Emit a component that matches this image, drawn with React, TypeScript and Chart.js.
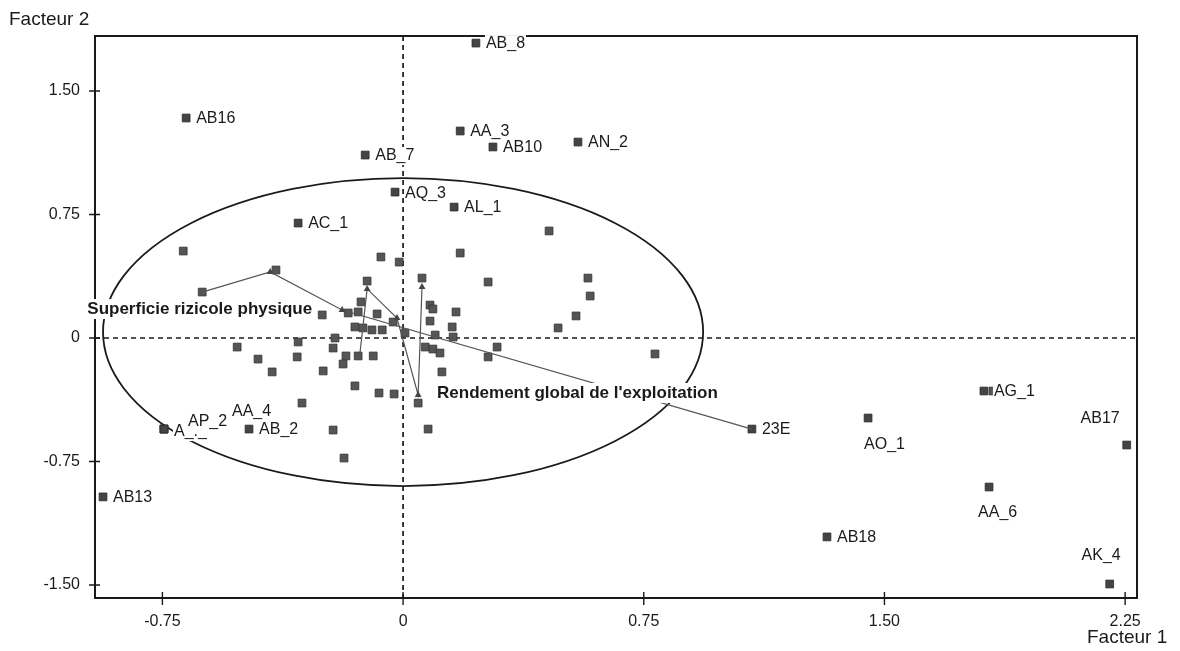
import React, { useEffect, useRef } from 'react';
import { Chart, registerables } from 'chart.js';

Chart.register(...registerables);

// ---- axes ----
const X_TICKS = [-0.75, 0, 0.75, 1.5, 2.25];
const Y_TICKS = [-1.5, -0.75, 0, 0.75, 1.5];
const X_RANGE = [-0.96, 2.287];
const Y_RANGE = [-1.579, 1.834];
const X_TITLE = 'Facteur 1';
const Y_TITLE = 'Facteur 2';

// ---- labelled individuals ----
const LABELED_NAMES = ['AB_8', 'AB16', 'AA_3', 'AB10', 'AN_2', 'AB_7', 'AQ_3', 'AL_1', 'AC_1', 'AG_1', 'AB17', 'AO_1', 'AA_6', 'AB18', 'AK_4', '23E', 'AB13', 'A_._', 'AP_2', 'AA_4', 'AB_2'];
const LABELED_X = [0.227, -0.676, 0.178, 0.28, 0.545, -0.118, -0.025, 0.159, -0.327, 1.81, 2.255, 1.449, 1.826, 1.321, 2.202, 1.087, -0.935, -0.745, -0.745, -0.745, -0.48];
const LABELED_Y = [1.791, 1.336, 1.257, 1.16, 1.19, 1.111, 0.886, 0.795, 0.698, -0.322, -0.65, -0.486, -0.905, -1.208, -1.494, -0.553, -0.965, -0.553, -0.553, -0.553, -0.553];
const LABEL_PLACE = ['r', 'r', 'r', 'r', 'r', 'r', 'r', 'r', 'r', 'r', 'tl', 'b', 'b2', 'r', 't', 'r', 'r', 'a', 'ap', 'aa', 'r'];

// ---- unlabelled individuals ----
const POINT_X = [-0.685, -0.626, -0.396, -0.252, -0.069, -0.012, 0.178, 0.455, -0.112, 0.059, -0.131, -0.171, -0.14, -0.081, 0.084, 0.093, 0.165, 0.084, -0.031, -0.15, -0.125, -0.097, -0.065, 0.006, 0.1, 0.153, 0.156, -0.212, -0.218, -0.178, -0.14, -0.093, -0.187, 0.069, 0.093, 0.115, -0.249, -0.15, -0.075, -0.028, 0.047, 0.121, -0.218, 0.078, -0.517, -0.452, -0.408, -0.327, -0.33, -0.315, 0.265, 0.576, 0.583, 0.539, 0.483, 0.293, 0.265, 0.785, -0.184, 1.838];
const POINT_Y = [0.528, 0.279, 0.413, 0.14, 0.492, 0.461, 0.516, 0.65, 0.346, 0.364, 0.219, 0.152, 0.158, 0.146, 0.2, 0.176, 0.158, 0.103, 0.097, 0.067, 0.061, 0.049, 0.049, 0.03, 0.018, 0.067, 0.006, 0.0, -0.061, -0.109, -0.109, -0.109, -0.158, -0.055, -0.067, -0.091, -0.2, -0.291, -0.334, -0.34, -0.395, -0.206, -0.559, -0.553, -0.055, -0.128, -0.206, -0.024, -0.115, -0.395, 0.34, 0.364, 0.255, 0.134, 0.061, -0.055, -0.115, -0.097, -0.729, -0.322];

// ---- variable trajectories ----
const PATH1_X = [-0.626, -0.414, -0.19, 1.087];
const PATH1_Y = [0.279, 0.401, 0.17, -0.553];
const PATH2_X = [-0.134, -0.112, -0.019, 0.047, 0.059];
const PATH2_Y = [-0.085, 0.298, 0.121, -0.346, 0.31];

// ---- variable labels ----
const VECTOR_LABELS = ['Superficie rizicole physique', "Rendement global de l'exploitation"];
const VECTOR_LABEL_X = [-0.984, 0.106];
const VECTOR_LABEL_Y = [0.176, -0.334];

// ---- correlation circle ----
const CIRCLE_CX = 0;
const CIRCLE_CY = 0.036;
const CIRCLE_R = 0.935;

// ---- styles ----
const FONT = '"Liberation Sans", Arial, sans-serif';
const INK = '#1a1a1a';
const PLACEMENTS: Record<string, { dx: number; dy: number; align: 'left' | 'right' }> = {
  r: { dx: 10, dy: 1, align: 'left' },
  tl: { dx: -7, dy: -26, align: 'right' },
  b: { dx: -4, dy: 27, align: 'left' },
  b2: { dx: -11, dy: 26, align: 'left' },
  t: { dx: 11, dy: -28, align: 'right' },
  a: { dx: 10, dy: 3, align: 'left' },
  ap: { dx: 24, dy: -7, align: 'left' },
  aa: { dx: 68, dy: -17, align: 'left' },
};

function fmt(v: number) {
  return v === 0 ? '0' : v.toFixed(2);
}

function drawBoxedText(ctx: CanvasRenderingContext2D, text: string, x: number, y: number, align: 'left' | 'right', font: string, h: number) {
  ctx.font = font;
  const w = ctx.measureText(text).width;
  const left = align === 'right' ? x - w : x;
  ctx.fillStyle = '#fff';
  ctx.fillRect(left - 1, y - h / 2, w + 2, h);
  ctx.fillStyle = INK;
  ctx.textAlign = 'left';
  ctx.textBaseline = 'middle';
  ctx.fillText(text, left, y);
}

const decorPlugin = {
  id: 'decor',
  beforeDatasetsDraw(chart: any) {
    const { ctx, chartArea: a, scales } = chart;
    const xs = scales.x, ys = scales.y;
    ctx.save();
    ctx.strokeStyle = INK;
    // dashed zero lines
    ctx.lineWidth = 1.7;
    ctx.setLineDash([5, 4]);
    const x0 = xs.getPixelForValue(0);
    const y0 = ys.getPixelForValue(0);
    ctx.beginPath();
    ctx.moveTo(x0, a.top);
    ctx.lineTo(x0, a.bottom);
    ctx.moveTo(a.left, y0);
    ctx.lineTo(a.right, y0);
    ctx.stroke();
    ctx.setLineDash([]);
    // circle
    const cx = xs.getPixelForValue(CIRCLE_CX);
    const cy = ys.getPixelForValue(CIRCLE_CY);
    const rx = Math.abs(xs.getPixelForValue(CIRCLE_CX + CIRCLE_R) - cx);
    const ry = Math.abs(ys.getPixelForValue(CIRCLE_CY + CIRCLE_R) - cy);
    ctx.lineWidth = 1.8;
    ctx.beginPath();
    ctx.ellipse(cx, cy, rx, ry, 0, 0, Math.PI * 2);
    ctx.stroke();
    // frame
    ctx.lineWidth = 2;
    ctx.strokeRect(a.left, a.top, a.right - a.left, a.bottom - a.top);
    // crossing tick marks
    ctx.lineWidth = 1.4;
    ctx.beginPath();
    Y_TICKS.forEach((v) => {
      const p = ys.getPixelForValue(v);
      ctx.moveTo(a.left - 6, p);
      ctx.lineTo(a.left + 5, p);
    });
    X_TICKS.forEach((v) => {
      const p = xs.getPixelForValue(v);
      ctx.moveTo(p, a.bottom - 6);
      ctx.lineTo(p, a.bottom + 7);
    });
    ctx.stroke();
    ctx.restore();
  },
  afterDraw(chart: any) {
    const { ctx, scales } = chart;
    const xs = scales.x, ys = scales.y;
    ctx.save();
    const lf = `16px ${FONT}`;
    LABELED_NAMES.forEach((name, i) => {
      const pl = PLACEMENTS[LABEL_PLACE[i]];
      const px = xs.getPixelForValue(LABELED_X[i]) + pl.dx;
      const py = ys.getPixelForValue(LABELED_Y[i]) + pl.dy;
      drawBoxedText(ctx, name, px, py, pl.align, lf, 18);
    });
    const bf = `bold 17px ${FONT}`;
    VECTOR_LABELS.forEach((t, i) => {
      drawBoxedText(ctx, t, xs.getPixelForValue(VECTOR_LABEL_X[i]), ys.getPixelForValue(VECTOR_LABEL_Y[i]), 'left', bf, 20);
    });
    ctx.fillStyle = INK;
    ctx.font = `19px ${FONT}`;
    ctx.textAlign = 'left';
    ctx.textBaseline = 'alphabetic';
    ctx.fillText(Y_TITLE, 9, 25);
    ctx.fillText(X_TITLE, 1087, 643);
    ctx.restore();
  },
};

export default function App() {
  const ref = useRef<HTMLCanvasElement | null>(null);
  useEffect(() => {
    if (!ref.current) return;
    const tickFont = { family: FONT, size: 16 };
    const chart = new Chart(ref.current, {
      type: 'scatter',
      data: {
        datasets: [
          {
            label: 'path1',
            data: PATH1_X.map((x, i) => ({ x, y: PATH1_Y[i] })),
            showLine: true,
            borderColor: '#555',
            borderWidth: 1.2,
            pointStyle: 'triangle',
            pointRadius: PATH1_X.map((_, i) => (i === 0 || i === PATH1_X.length - 1 ? 0 : 4)),
            backgroundColor: '#444',
            pointBorderWidth: 0,
          },
          {
            label: 'path2',
            data: PATH2_X.map((x, i) => ({ x, y: PATH2_Y[i] })),
            showLine: true,
            borderColor: '#555',
            borderWidth: 1.2,
            pointStyle: 'triangle',
            pointRadius: PATH2_X.map((_, i) => (i === 0 ? 0 : 4)),
            backgroundColor: '#444',
            pointBorderWidth: 0,
          },
          {
            label: 'points',
            data: POINT_X.map((x, i) => ({ x, y: POINT_Y[i] })),
            pointStyle: 'rect',
            pointRadius: 5.5,
            backgroundColor: '#555',
            borderColor: '#333',
            pointBorderWidth: 0.8,
          },
          {
            label: 'labeled',
            data: LABELED_X.map((x, i) => ({ x, y: LABELED_Y[i] })),
            pointStyle: 'rect',
            pointRadius: 5.5,
            backgroundColor: '#444',
            borderColor: '#2a2a2a',
            pointBorderWidth: 0.8,
          },
        ],
      },
      options: {
        animation: false,
        responsive: false,
        layout: { padding: { top: 36, right: 43, left: 0, bottom: 0 } },
        plugins: { legend: { display: false }, tooltip: { enabled: false } },
        scales: {
          x: {
            type: 'linear',
            min: X_RANGE[0],
            max: X_RANGE[1],
            afterBuildTicks: (s: any) => {
              s.ticks = X_TICKS.map((v) => ({ value: v }));
            },
            afterFit: (s: any) => {
              s.height = 53;
            },
            grid: { display: false, drawTicks: false },
            border: { display: false },
            ticks: { padding: 14, font: tickFont, color: INK, maxRotation: 0, autoSkip: false, callback: (v: any) => fmt(Number(v)) },
          },
          y: {
            type: 'linear',
            min: Y_RANGE[0],
            max: Y_RANGE[1],
            afterBuildTicks: (s: any) => {
              s.ticks = Y_TICKS.map((v) => ({ value: v }));
            },
            afterFit: (s: any) => {
              s.width = 95;
            },
            grid: { display: false, drawTicks: false },
            border: { display: false },
            ticks: { padding: 15, font: tickFont, color: INK, autoSkip: false, callback: (v: any) => fmt(Number(v)) },
          },
        },
      },
      plugins: [decorPlugin],
    } as any);
    return () => chart.destroy();
  }, []);
  return (
    <div style={{ position: 'absolute', left: 0, top: 0, width: 1180, height: 651, background: '#fff' }}>
      <canvas ref={ref} width={1180} height={651} style={{ display: 'block' }} />
    </div>
  );
}
